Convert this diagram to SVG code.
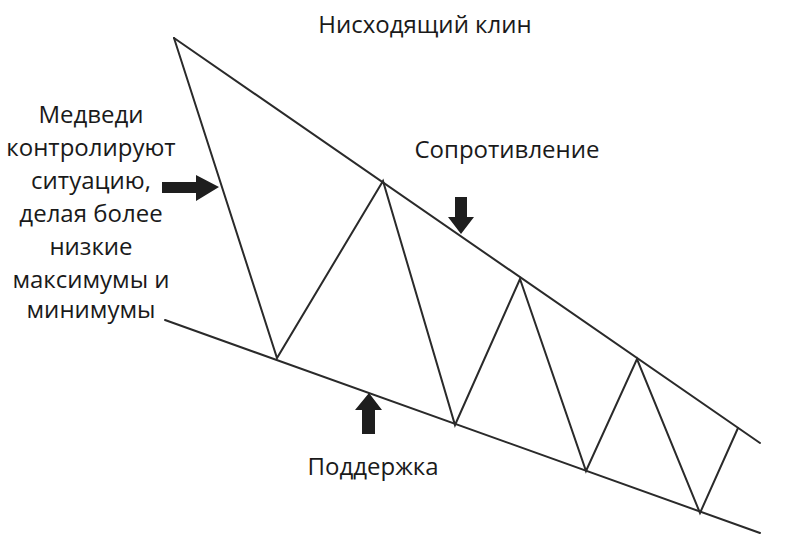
<svg xmlns="http://www.w3.org/2000/svg" width="800" height="556" viewBox="0 0 800 556">
<style>
.ln{stroke:#2a2a2a;stroke-width:2;fill:none;stroke-linecap:round;stroke-linejoin:miter}
.t{font-family:"Open Sans","DejaVu Sans",sans-serif;font-size:24px;fill:#1a1a1a;text-anchor:middle}
.ar{fill:#1e1e1e}
</style>
<rect width="800" height="556" fill="#ffffff"/>
<g id="connectors">
<line class="ln" x1="174" y1="38" x2="760" y2="443"/>
<line class="ln" x1="165" y1="320" x2="760" y2="533"/>
<polyline class="ln" points="174,38 277,358 383,181 455,425 520,279 586,471 637,359 700,513 738,428"/>
</g>
<g id="title"><text class="t" x="425" y="33">Нисходящий клин</text></g>
<g id="resistance"><text class="t" x="507" y="158">Сопротивление</text>
<polygon class="ar" points="455,197 467,197 467,217 474,217 461,234 448,217 455,217"/></g>
<g id="support"><text class="t" x="373" y="475">Поддержка</text>
<polygon class="ar" points="362,434 375,434 375,410 382,410 369,393 355,410 362,410"/></g>
<g id="bears">
<text class="t" x="91" y="123">Медведи</text>
<text class="t" x="91" y="156">контролируют</text>
<text class="t" x="91" y="189">ситуацию,</text>
<text class="t" x="91" y="222">делая более</text>
<text class="t" x="91" y="255">низкие</text>
<text class="t" x="91" y="288">максимумы и</text>
<text class="t" x="91" y="318">минимумы</text>
<polygon class="ar" points="162,182 196,182 196,175 219,187 196,201 196,193 162,193"/>
</g>
</svg>
